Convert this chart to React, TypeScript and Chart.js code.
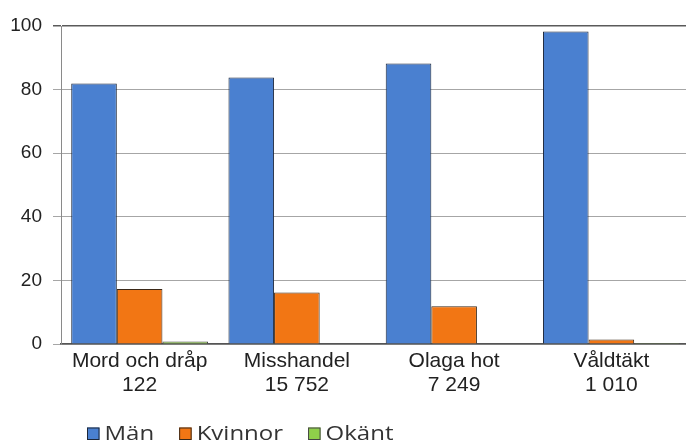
import React, { useEffect, useRef } from "react";
import { Chart, registerables } from "chart.js";

Chart.register(...registerables);

const categories: string[][] = [
  ["Mord och dråp", "122"],
  ["Misshandel", "15 752"],
  ["Olaga hot", "7 249"],
  ["Våldtäkt", "1 010"],
];
const menValues = [81.9, 83.8, 88.2, 98.3];
const womenValues = [17.3, 16.2, 11.9, 1.4];
const unknownValues = [0.8, 0.15, 0.15, 0.3];
const seriesNames = ["Män", "Kvinnor", "Okänt"];
const yTicks = [0, 20, 40, 60, 80, 100];

// Legend drawn on the chart canvas (horizontally stretched text like the reference)
const customLegend = {
  id: "customLegend",
  afterDraw(chart: any) {
    const ctx = chart.ctx;
    const stretch = 1.2;
    const box = 12.5;
    const boxTop = 427.5;
    const baseline = 440;
    ctx.save();
    ctx.font = "20px 'Open Sans', sans-serif";
    ctx.textBaseline = "alphabetic";
    ctx.textAlign = "left";
    let x = 87;
    chart.data.datasets.forEach((ds: any) => {
      ctx.fillStyle = ds.backgroundColor;
      ctx.fillRect(x, boxTop, box, box);
      ctx.strokeStyle = ds.borderColor;
      ctx.lineWidth = 1;
      ctx.strokeRect(x + 0.5, boxTop + 0.5, box - 1, box - 1);
      x += box + 5;
      const w = ctx.measureText(ds.label).width * stretch;
      ctx.save();
      ctx.translate(x, baseline);
      ctx.scale(stretch, 1);
      ctx.fillStyle = "#333333";
      ctx.fillText(ds.label, 0, 0);
      ctx.restore();
      x += w + 25;
    });
    ctx.restore();
  },
};

export default function App() {
  const ref = useRef<HTMLCanvasElement | null>(null);
  useEffect(() => {
    if (!ref.current) return;
    const chart = new Chart(ref.current, {
      type: "bar",
      data: {
        labels: categories,
        datasets: [
          {
            label: seriesNames[0],
            data: menValues,
            backgroundColor: "#4a80d0",
            borderColor: "#1c2638",
            borderWidth: 1,
          },
          {
            label: seriesNames[1],
            data: womenValues,
            backgroundColor: "#f27614",
            borderColor: "#3a2818",
            borderWidth: 1,
          },
          {
            label: seriesNames[2],
            data: unknownValues,
            backgroundColor: "#8fcf4a",
            borderColor: "#444444",
            borderWidth: 1,
          },
        ],
      },
      options: {
        responsive: false,
        animation: false,
        layout: { padding: { top: 26, right: 2, left: 0, bottom: 0 } },
        datasets: {
          bar: { categoryPercentage: 0.87, barPercentage: 1 },
        },
        plugins: {
          tooltip: { enabled: false },
          legend: { display: false },
        },
        scales: {
          x: {
            grid: { display: false, drawTicks: false },
            border: { display: true, color: "#555555", width: 1.5 },
            ticks: {
              color: "#222222",
              padding: 5,
              font: { family: "'Liberation Sans', Arial, sans-serif", size: 21, lineHeight: 1.15 },
              maxRotation: 0,
              autoSkip: false,
            },
            afterFit: (s: any) => {
              s.height = 98;
            },
          },
          y: {
            min: 0,
            max: 100,
            afterBuildTicks: (s: any) => {
              s.ticks = yTicks.map((v) => ({ value: v }));
            },
            grid: {
              color: (c: any) => (c.tick && c.tick.value === 100 ? "#5a5a5a" : "#a6a6a6"),
              lineWidth: (c: any) => (c.tick && c.tick.value === 100 ? 1.5 : 1),
              tickLength: 8,
            },
            border: { display: true, color: "#8a8a8a", width: 1 },
            ticks: {
              color: "#222222",
              padding: 11,
              font: { family: "'Liberation Sans', Arial, sans-serif", size: 19 },
            },
            afterFit: (s: any) => {
              s.width = 61;
            },
          },
        },
      },
      plugins: [customLegend],
    });
    return () => chart.destroy();
  }, []);
  return (
    <div
      style={{
        position: "fixed",
        left: 0,
        top: 0,
        width: 686,
        height: 442,
        overflow: "hidden",
        background: "#ffffff",
      }}
    >
      <canvas ref={ref} width={692} height={442} style={{ width: 692, height: 442, display: "block" }} />
    </div>
  );
}
